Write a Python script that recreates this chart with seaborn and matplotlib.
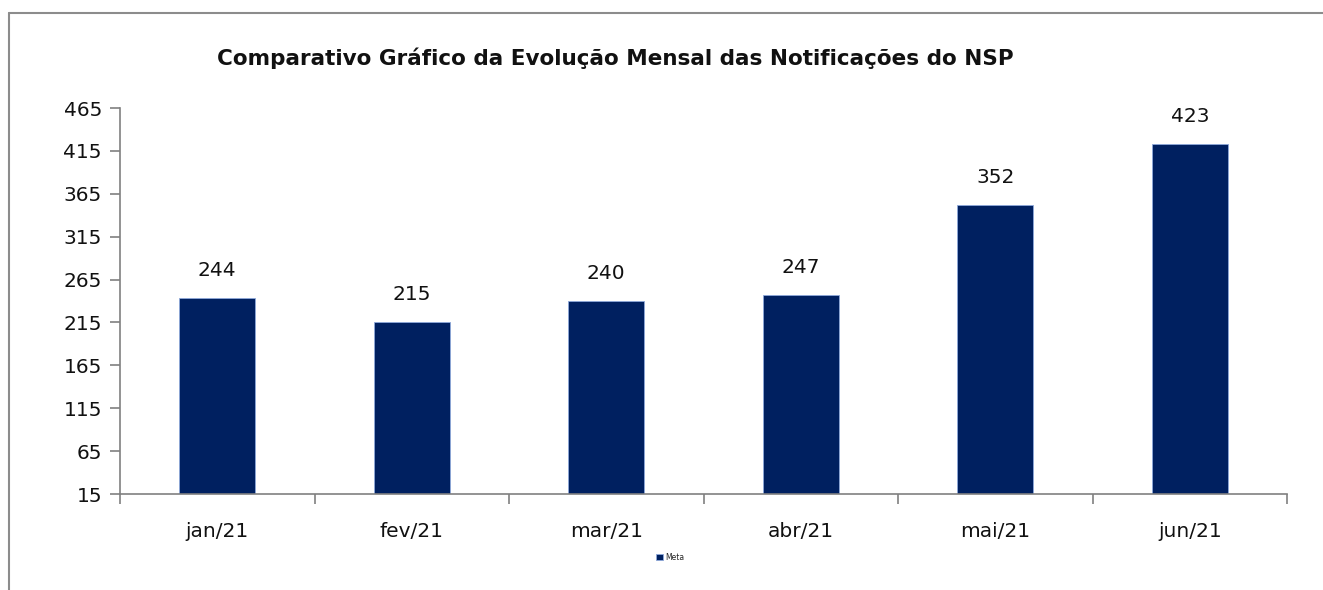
import matplotlib
matplotlib.use("Agg")
import matplotlib.pyplot as plt
from matplotlib.lines import Line2D
import seaborn as sns
import pandas as pd

# chart data
months = ["jan/21", "fev/21", "mar/21", "abr/21", "mai/21", "jun/21"]
notificacoes = [244, 215, 240, 247, 352, 423]
y_ticks = [15, 65, 115, 165, 215, 265, 315, 365, 415, 465]

df = pd.DataFrame({"mes": months, "valor": notificacoes, "serie": "Meta"})

sns.set_theme(style="white")
plt.rcParams["font.family"] = ["DejaVu Sans"]

fig = plt.figure(figsize=(13.23, 5.9), dpi=100)
ax = fig.add_axes([120 / 1323, 1 - 494 / 590, (1287 - 120) / 1323, (494 - 108) / 590])

sns.barplot(data=df, x="mes", y="valor", hue="serie", palette=["#002060"],
            saturation=1, width=0.39, edgecolor="#8EA9DB", linewidth=0.6, ax=ax)

ax.set_ylim(15, 465)
ax.set_yticks(y_ticks)
ax.set_xlim(-0.5, len(months) - 0.5)
ax.set_xlabel("")
ax.set_ylabel("")

# value labels above bars
for i, v in enumerate(notificacoes):
    ax.annotate(str(v), (i, v), xytext=(0, 13), textcoords="offset points",
                ha="center", va="bottom", fontsize=14.5, color="#111111")

# category ticks at the boundaries, labels at the centres
ax.set_xticks([i - 0.5 for i in range(len(months) + 1)], minor=False)
ax.set_xticklabels([])
ax.set_xticks(range(len(months)), minor=True)
ax.set_xticklabels(months, minor=True, fontsize=14.5, color="#111111")
ax.tick_params(axis="x", which="minor", length=0, pad=20)
ax.tick_params(axis="x", which="major", length=7, width=1.2, color="#808080", direction="out")
ax.tick_params(axis="y", length=7, width=1.2, color="#808080", direction="out",
               labelsize=14.5, labelcolor="#111111", pad=6)
ax.yaxis.set_tick_params(left=True)
ax.xaxis.set_tick_params(bottom=True)

for side in ["top", "right"]:
    ax.spines[side].set_visible(False)
for side in ["left", "bottom"]:
    ax.spines[side].set_color("#808080")
    ax.spines[side].set_linewidth(1.2)

# title
fig.text(615 / 1323, 1 - 58 / 590, "Comparativo Gráfico da Evolução Mensal das Notificações do NSP",
         ha="center", va="center", fontsize=15.5, fontweight="bold", color="#111111")

# tiny legend
ax.legend(loc="center", bbox_to_anchor=(670 / 1323, 1 - 557 / 590),
          bbox_transform=fig.transFigure, frameon=False, fontsize=5.5,
          handlelength=0.9, handleheight=0.9, handletextpad=0.3, borderpad=0)

# outer chart border
fig.add_artist(Line2D([9 / 1323, 9 / 1323], [0, 1 - 13 / 590], transform=fig.transFigure,
                      color="#8c8c8c", linewidth=1.5))
fig.add_artist(Line2D([9 / 1323, 1], [1 - 13 / 590, 1 - 13 / 590], transform=fig.transFigure,
                      color="#8c8c8c", linewidth=1.5))

fig.savefig("out.png", dpi=100, facecolor="white")
